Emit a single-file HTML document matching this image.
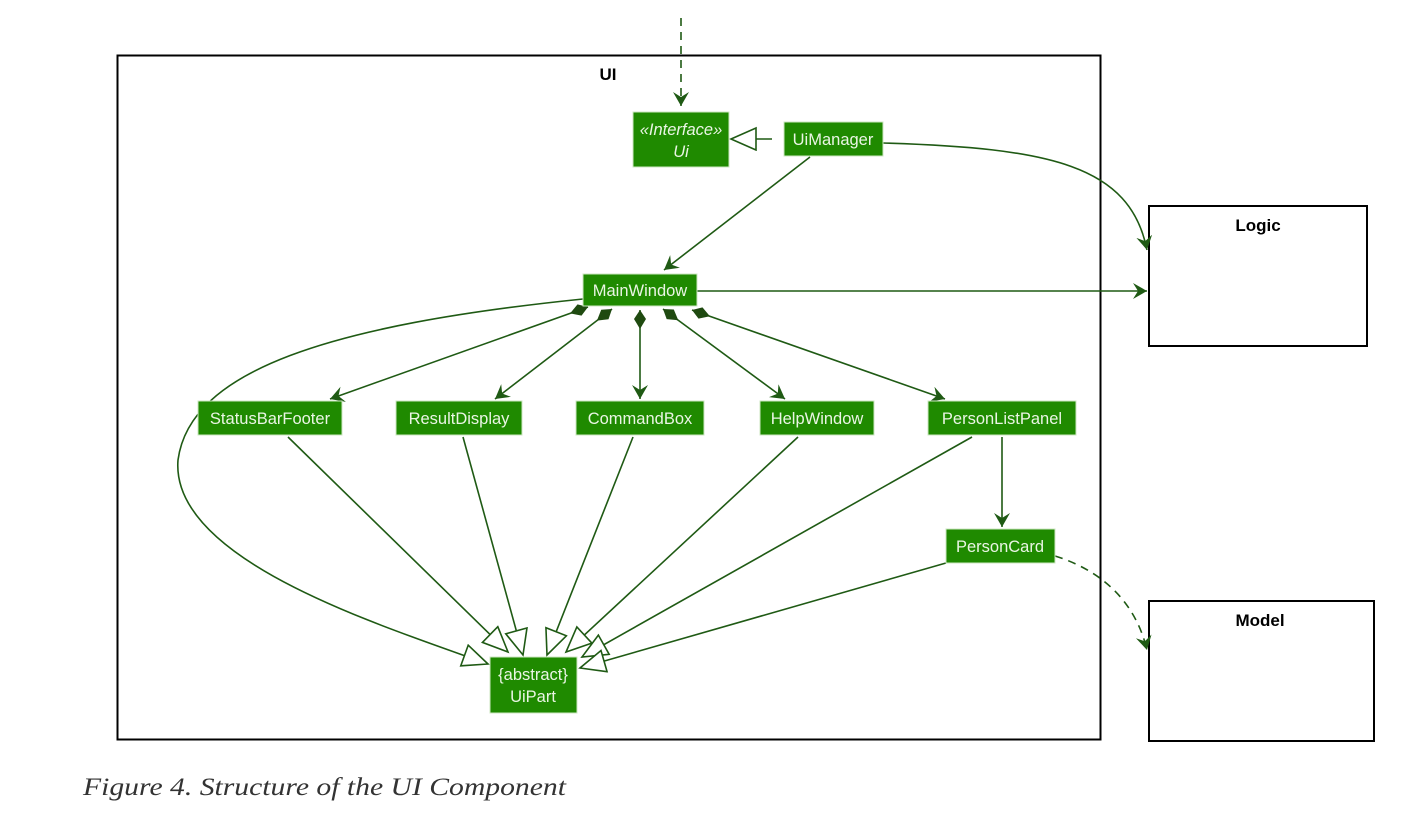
<!DOCTYPE html>
<html><head><meta charset="utf-8"><style>
html,body{margin:0;padding:0;background:#fff;width:1426px;height:817px;overflow:hidden}
svg{display:block}
.b{fill:#1f8a00;stroke:#cde7c2;stroke-width:1}
.t{font-family:"Liberation Sans",sans-serif;font-size:16.5px;fill:#eaf5e4;text-anchor:middle}
.e{stroke:#1f5a14;stroke-width:1.6;fill:none}
</style></head><body>
<svg width="1426" height="817" viewBox="0 0 1426 817" xmlns="http://www.w3.org/2000/svg">
<defs>
<marker id="v" markerWidth="20" markerHeight="20" refX="14" refY="8" orient="auto" markerUnits="userSpaceOnUse">
<path d="M0,0 L14,8 L0,16 L5,8 Z" fill="#1f5a14"/></marker>
<marker id="tri" markerWidth="34" markerHeight="30" refX="26" refY="12" orient="auto" markerUnits="userSpaceOnUse">
<path d="M1,1 L26,12 L1,23 Z" fill="#fff" stroke="#1f5a14" stroke-width="1.6"/></marker>
<marker id="dia" markerWidth="30" markerHeight="20" refX="1" refY="7" orient="auto" markerUnits="userSpaceOnUse">
<path d="M1,7 L10,1 L20,7 L10,13 Z" fill="#1f4a10"/></marker>
</defs>
<rect x="117.5" y="55.5" width="983" height="684" fill="none" stroke="#000" stroke-width="2"/>
<text x="608" y="80" font-family="Liberation Sans,sans-serif" font-weight="bold" font-size="17" text-anchor="middle">UI</text>
<rect x="1149" y="206" width="218" height="140" fill="none" stroke="#000" stroke-width="2"/>
<text x="1258" y="231" font-family="Liberation Sans,sans-serif" font-weight="bold" font-size="17" text-anchor="middle">Logic</text>
<rect x="1149" y="601" width="225" height="140" fill="none" stroke="#000" stroke-width="2"/>
<text x="1260" y="626" font-family="Liberation Sans,sans-serif" font-weight="bold" font-size="17" text-anchor="middle">Model</text>

<path class="e" d="M681,18 L681,106" stroke-dasharray="8,6" marker-end="url(#v)"/>
<path class="e" d="M772,139 L731,139" marker-end="url(#tri)"/>
<path class="e" d="M810,157 L664,270" marker-end="url(#v)"/>
<path class="e" d="M883,143 C1050,148 1130,165 1147,250" marker-end="url(#v)"/>
<path class="e" d="M697,291 L1147,291" marker-end="url(#v)"/>
<path class="e" d="M588,307 L330,399" marker-start="url(#dia)" marker-end="url(#v)"/>
<path class="e" d="M612,309 L495,399" marker-start="url(#dia)" marker-end="url(#v)"/>
<path class="e" d="M640,310 L640,399" marker-start="url(#dia)" marker-end="url(#v)"/>
<path class="e" d="M663,309 L785,399" marker-start="url(#dia)" marker-end="url(#v)"/>
<path class="e" d="M692,310 L945,399" marker-start="url(#dia)" marker-end="url(#v)"/>
<path class="e" d="M583,299 C330,325 190,370 178,460 C170,560 380,625 488,664" marker-end="url(#tri)"/>
<path class="e" d="M288,437 L508,652" marker-end="url(#tri)"/>
<path class="e" d="M463,437 L523,655" marker-end="url(#tri)"/>
<path class="e" d="M633,437 L547,655" marker-end="url(#tri)"/>
<path class="e" d="M798,437 L566,652" marker-end="url(#tri)"/>
<path class="e" d="M972,437 L582,657" marker-end="url(#tri)"/>
<path class="e" d="M946,563 L580,668" marker-end="url(#tri)"/>
<path class="e" d="M1002,437 L1002,527" marker-end="url(#v)"/>
<path class="e" d="M1055,556 C1100,570 1135,600 1147,650" stroke-dasharray="8,6" marker-end="url(#v)"/>

<rect class="b" x="633" y="112" width="96" height="55"/>
<text class="t" x="681" y="135" font-style="italic">«Interface»</text>
<text class="t" x="681" y="157" font-style="italic">Ui</text>
<rect class="b" x="784" y="122" width="99" height="34"/><text class="t" x="833" y="145">UiManager</text>
<rect class="b" x="583" y="274" width="114" height="32"/><text class="t" x="640" y="296">MainWindow</text>
<rect class="b" x="198" y="401" width="144" height="34"/><text class="t" x="270" y="424">StatusBarFooter</text>
<rect class="b" x="396" y="401" width="126" height="34"/><text class="t" x="459" y="424">ResultDisplay</text>
<rect class="b" x="576" y="401" width="128" height="34"/><text class="t" x="640" y="424">CommandBox</text>
<rect class="b" x="760" y="401" width="114" height="34"/><text class="t" x="817" y="424">HelpWindow</text>
<rect class="b" x="928" y="401" width="148" height="34"/><text class="t" x="1002" y="424">PersonListPanel</text>
<rect class="b" x="946" y="529" width="109" height="34"/><text class="t" x="1000" y="552">PersonCard</text>
<rect class="b" x="490" y="657" width="87" height="56"/>
<text class="t" x="533" y="680">{abstract}</text>
<text class="t" x="533" y="702">UiPart</text>

<text x="83" y="795" font-family="Liberation Serif,serif" font-style="italic" font-size="25" fill="#333" textLength="483" lengthAdjust="spacingAndGlyphs">Figure 4. Structure of the UI Component</text>
</svg>
</body></html>
